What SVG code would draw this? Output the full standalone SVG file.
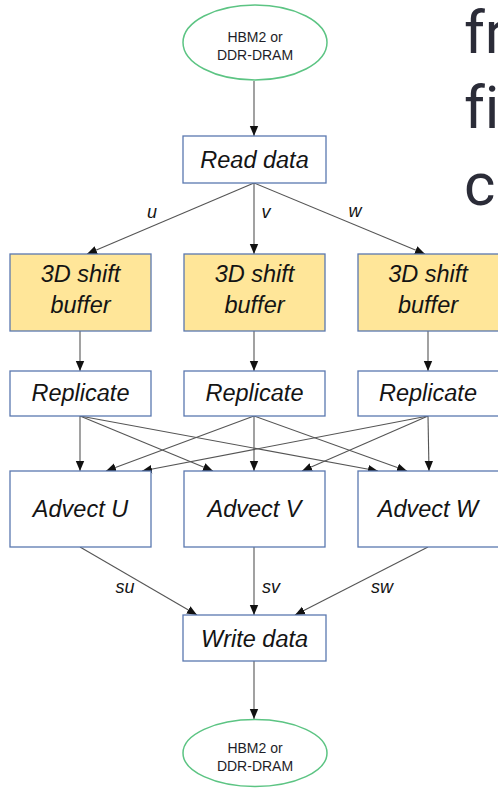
<svg xmlns="http://www.w3.org/2000/svg" width="498" height="788" viewBox="0 0 498 788">
<defs>
<marker id="ah" markerWidth="10" markerHeight="10" refX="10" refY="5" orient="auto" markerUnits="userSpaceOnUse"><path d="M0,0.8 L10,5 L0,9.2 z" fill="#111"/></marker>
<style>
.box{fill:#fff;stroke:#5a78b0;stroke-width:1.3}
.buf{fill:#ffe699;stroke:#5a78b0;stroke-width:1.3}
.ell{fill:#fff;stroke:#5cc483;stroke-width:1.5}
.lbl{font-family:"Liberation Sans",Arial,sans-serif;font-style:italic;font-size:23.5px;fill:#141414;text-anchor:middle}
.el{font-family:"Liberation Sans",Arial,sans-serif;font-size:14px;fill:#1e1e28;text-anchor:middle}
.e{font-family:"Liberation Sans",Arial,sans-serif;font-style:italic;font-size:18px;fill:#141414;text-anchor:middle}
.big{font-family:Roboto,"Liberation Sans",sans-serif;font-size:60px;fill:#2b2c38;font-variant-ligatures:none;font-feature-settings:"liga" 0}
#conn line{stroke:#555;stroke-width:1.1;marker-end:url(#ah)}
</style>
</defs>
<rect width="498" height="788" fill="#fff"/>
<g id="bgtext">
<text class="big" x="464" y="53">fr</text>
<text class="big" x="464" y="128">fi</text>
<text class="big" x="464" y="205">c</text>
</g>
<g id="conn">
<line x1="254" y1="81" x2="254" y2="136"/>
<line x1="254" y1="183" x2="87" y2="254"/>
<line x1="254" y1="183" x2="254" y2="254"/>
<line x1="254" y1="183" x2="425" y2="254"/>
<line x1="80" y1="331" x2="80" y2="371"/>
<line x1="254" y1="331" x2="254" y2="371"/>
<line x1="428" y1="331" x2="428" y2="371"/>
<line x1="80" y1="416" x2="80" y2="471"/>
<line x1="80" y1="416" x2="213" y2="471"/>
<line x1="80" y1="416" x2="378" y2="471"/>
<line x1="254" y1="416" x2="106" y2="471"/>
<line x1="254" y1="416" x2="254" y2="471"/>
<line x1="254" y1="416" x2="407" y2="471"/>
<line x1="428" y1="416" x2="142" y2="471"/>
<line x1="428" y1="416" x2="302" y2="471"/>
<line x1="428" y1="416" x2="429" y2="471"/>
<line x1="80" y1="547" x2="197" y2="615"/>
<line x1="254" y1="547" x2="254" y2="615"/>
<line x1="428" y1="547" x2="295" y2="615"/>
<line x1="254" y1="661" x2="254" y2="719"/>
<text class="e" x="152" y="218">u</text>
<text class="e" x="266" y="218">v</text>
<text class="e" x="355" y="217">w</text>
<text class="e" x="125" y="593">su</text>
<text class="e" x="271" y="593">sv</text>
<text class="e" x="382" y="593">sw</text>
</g>
<g id="mem_in">
<ellipse class="ell" cx="255" cy="42.5" rx="72" ry="37.5"/>
<text class="el" x="255" y="42">HBM2 or</text>
<text class="el" x="255" y="60">DDR-DRAM</text>
</g>
<g id="read"><rect class="box" x="183" y="136" width="143" height="47"/><text class="lbl" x="254.5" y="168">Read data</text></g>
<g id="buf_u"><rect class="buf" x="10" y="254" width="141" height="77"/><text class="lbl" x="80.5" y="282">3D shift</text><text class="lbl" x="80.5" y="313">buffer</text></g>
<g id="buf_v"><rect class="buf" x="184" y="254" width="141" height="77"/><text class="lbl" x="254.5" y="282">3D shift</text><text class="lbl" x="254.5" y="313">buffer</text></g>
<g id="buf_w"><rect class="buf" x="358" y="254" width="141" height="77"/><text class="lbl" x="428" y="282">3D shift</text><text class="lbl" x="428" y="313">buffer</text></g>
<g id="rep_u"><rect class="box" x="10" y="371" width="141" height="45"/><text class="lbl" x="80.5" y="401">Replicate</text></g>
<g id="rep_v"><rect class="box" x="184" y="371" width="141" height="45"/><text class="lbl" x="254.5" y="401">Replicate</text></g>
<g id="rep_w"><rect class="box" x="358" y="371" width="141" height="45"/><text class="lbl" x="428" y="401">Replicate</text></g>
<g id="adv_u"><rect class="box" x="10" y="471" width="141" height="76"/><text class="lbl" x="80.5" y="517">Advect U</text></g>
<g id="adv_v"><rect class="box" x="184" y="471" width="141" height="76"/><text class="lbl" x="254.5" y="517">Advect V</text></g>
<g id="adv_w"><rect class="box" x="358" y="471" width="141" height="76"/><text class="lbl" x="428" y="517">Advect W</text></g>
<g id="write"><rect class="box" x="183" y="615" width="143" height="46"/><text class="lbl" x="254.5" y="647">Write data</text></g>
<g id="mem_out">
<ellipse class="ell" cx="255" cy="753" rx="72" ry="33.5"/>
<text class="el" x="255" y="752.5">HBM2 or</text>
<text class="el" x="255" y="770.5">DDR-DRAM</text>
</g>
</svg>
